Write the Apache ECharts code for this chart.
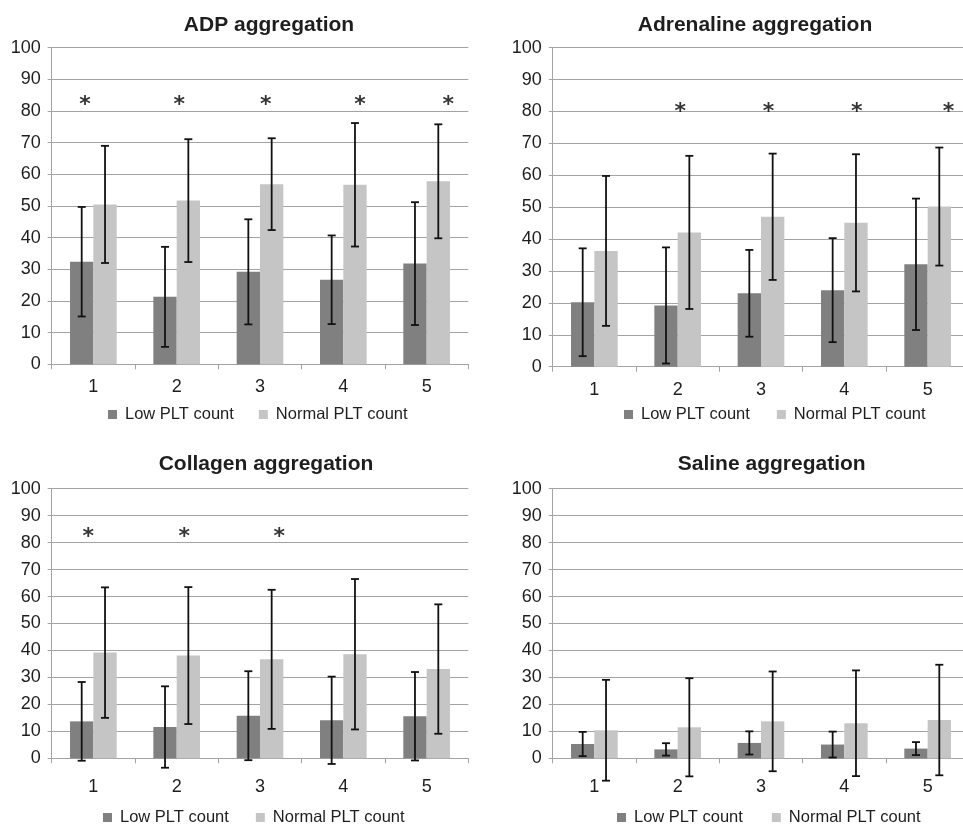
<!DOCTYPE html>
<html><head><meta charset="utf-8">
<script src="https://cdn.jsdelivr.net/npm/echarts@6/dist/echarts.min.js"></script>
<style>html,body{margin:0;padding:0;background:#fff}#c{width:963px;height:825px}</style>
</head><body><div id="c"></div>
<script>
// ---- data ----
const categories = ['1', '2', '3', '4', '5'];
const seriesNames = ['Low PLT count', 'Normal PLT count'];
const panelTitles = ['ADP aggregation', 'Adrenaline aggregation', 'Collagen aggregation', 'Saline aggregation'];
const yMin = 0, yMax = 100, yStep = 10;

const adpLowMean = [32.4, 21.3, 29.2, 26.7, 31.8];
const adpLowSD = [17.3, 15.8, 16.6, 14.0, 19.4];
const adpNormalMean = [50.5, 51.7, 56.9, 56.7, 57.8];
const adpNormalSD = [18.5, 19.4, 14.5, 19.5, 18.0];
const adpSignificant = [1, 1, 1, 1, 1];

const adrLowMean = [20.2, 19.2, 23.0, 24.0, 32.1];
const adrLowSD = [16.9, 18.2, 13.6, 16.3, 20.6];
const adrNormalMean = [36.3, 42.1, 47.0, 45.1, 50.2];
const adrNormalSD = [23.5, 24.0, 19.8, 21.5, 18.5];
const adrSignificant = [0, 1, 1, 1, 1];

const colLowMean = [13.7, 11.6, 15.8, 14.1, 15.6];
const colLowSD = [14.6, 15.1, 16.5, 16.2, 16.4];
const colNormalMean = [39.2, 38.1, 36.7, 38.6, 33.1];
const colNormalSD = [24.2, 25.4, 25.8, 27.9, 24.0];
const colSignificant = [1, 1, 1, 0, 0];

const salLowMean = [5.3, 3.3, 5.7, 5.1, 3.6];
const salLowSD = [4.5, 2.3, 4.3, 4.8, 2.4];
const salNormalMean = [10.4, 11.5, 13.7, 13.0, 14.2];
const salNormalSD = [18.7, 18.2, 18.5, 19.6, 20.5];
const salSignificant = [0, 0, 0, 0, 0];

const starLevels = [83, 81, 83.4, 83];

// ---- layout / style ----
const panelData = [
  [adpLowMean, adpLowSD, adpNormalMean, adpNormalSD, adpSignificant],
  [adrLowMean, adrLowSD, adrNormalMean, adrNormalSD, adrSignificant],
  [colLowMean, colLowSD, colNormalMean, colNormalSD, colSignificant],
  [salLowMean, salLowSD, salNormalMean, salNormalSD, salSignificant]
];
const layout = [
  {grid: {left: 51.7, top: 47.7, width: 416.6, height: 316.6}, title: [269, 15], legend: [108, 406], gap: 25, xMargin: 14,
   starShift: [-0.10, 0.03, 0.07, 0.2, 0.26]},
  {grid: {left: 552.7, top: 47.7, width: 416.6, height: 319}, title: [755, 15], legend: [624, 406], gap: 27, xMargin: 14,
   starShift: [0, 0.03, 0.09, 0.15, 0.25]},
  {grid: {left: 51.7, top: 488.7, width: 416.6, height: 269.6}, title: [266, 454], legend: [103, 809], gap: 27, xMargin: 20,
   starShift: [-0.06, 0.09, 0.23, 0, 0]},
  {grid: {left: 552.7, top: 488.7, width: 416.6, height: 269.6}, title: [771.7, 454], legend: [617, 809], gap: 29, xMargin: 20,
   starShift: [0, 0, 0, 0, 0]}
];
const darkColor = '#808080', lightColor = '#c5c5c5', gridColor = '#a3a3a3', textColor = '#1e1e1e';
const FONT = '"Liberation Sans", Arial, sans-serif';
const BAR_FRAC = 0.28;

const option = {
  animation: false,
  backgroundColor: '#fff',
  textStyle: {fontFamily: FONT},
  title: [], legend: [], grid: [], xAxis: [], yAxis: [], series: []
};

function errorRender(params, api) {
  const idx = api.value(0), mean = api.value(1), sd = api.value(2), side = api.value(3);
  const band = api.size([1, 0])[0];
  const c = api.coord([idx, mean]);
  const x = c[0] + side * band * BAR_FRAC / 2;
  const yt = api.coord([idx, mean + sd])[1];
  const yb = api.coord([idx, mean - sd])[1];
  const hw = 4;
  const style = {stroke: '#111', lineWidth: 1.8};
  return {type: 'group', children: [
    {type: 'line', shape: {x1: x, y1: yt, x2: x, y2: yb}, style: style},
    {type: 'line', shape: {x1: x - hw, y1: yt, x2: x + hw, y2: yt}, style: style},
    {type: 'line', shape: {x1: x - hw, y1: yb, x2: x + hw, y2: yb}, style: style}
  ]};
}

panelData.forEach(function (pd, i) {
  const L = layout[i];
  const [lowM, lowS, norM, norS, sig] = pd;
  option.grid.push(Object.assign({containLabel: false, outerBoundsMode: 'none'}, L.grid));
  option.title.push({
    text: panelTitles[i], left: L.title[0], top: L.title[1], textAlign: 'center', padding: 0,
    textStyle: {fontSize: 21, fontWeight: 'bold', color: textColor, fontFamily: FONT}
  });
  option.legend.push({
    data: seriesNames, left: L.legend[0], top: L.legend[1], padding: 0, itemGap: L.gap,
    itemWidth: 9, itemHeight: 9, icon: 'rect', selectedMode: false,
    textStyle: {fontSize: 16.5, color: textColor, fontFamily: FONT, padding: [0, 0, 0, 3]}
  });
  option.xAxis.push({
    type: 'category', gridIndex: i, data: categories,
    axisLine: {show: true, lineStyle: {color: gridColor, width: 1}},
    axisTick: {show: true, length: 5, lineStyle: {color: gridColor}},
    axisLabel: {fontSize: 18, color: textColor, margin: L.xMargin, fontFamily: FONT},
    splitLine: {show: false}
  });
  option.xAxis.push({type: 'value', gridIndex: i, min: 0.5, max: 5.5, show: false});
  option.yAxis.push({
    type: 'value', gridIndex: i, min: yMin, max: yMax, interval: yStep,
    axisLine: {show: true, lineStyle: {color: gridColor, width: 1}},
    axisTick: {show: true, length: 4, lineStyle: {color: gridColor}},
    axisLabel: {fontSize: 18, color: textColor, margin: 11, fontFamily: FONT},
    splitLine: {show: true, lineStyle: {color: gridColor, width: 1}}
  });
  option.series.push({
    name: seriesNames[0], type: 'bar', xAxisIndex: 2 * i, yAxisIndex: i, data: lowM,
    barWidth: (BAR_FRAC * 100) + '%', barGap: '0%', itemStyle: {color: darkColor}
  });
  option.series.push({
    name: seriesNames[1], type: 'bar', xAxisIndex: 2 * i, yAxisIndex: i, data: norM,
    barWidth: (BAR_FRAC * 100) + '%', barGap: '0%', itemStyle: {color: lightColor}
  });
  const errData = [];
  categories.forEach(function (c, k) {
    errData.push([k, lowM[k], lowS[k], -1]);
    errData.push([k, norM[k], norS[k], 1]);
  });
  option.series.push({
    name: 'err' + i, type: 'custom', xAxisIndex: 2 * i, yAxisIndex: i, clip: false, z: 5,
    renderItem: errorRender, data: errData, encode: {x: 0, y: 1}
  });
  const stars = [];
  sig.forEach(function (s, k) { if (s) stars.push([k + 1 + L.starShift[k], starLevels[i]]); });
  option.series.push({
    name: 'stars' + i, type: 'scatter', xAxisIndex: 2 * i + 1, yAxisIndex: i, data: stars,
    symbol: 'circle', symbolSize: 2, itemStyle: {color: 'rgba(0,0,0,0)'}, silent: true, z: 6,
    label: {show: true, position: 'inside', formatter: '*', offset: [0, 4],
      fontSize: 22, fontWeight: 'bold', color: '#000', fontFamily: '"DejaVu Sans", sans-serif'}
  });
});

const chart = echarts.init(document.getElementById('c'), null, {renderer: 'canvas'});
chart.setOption(option);
</script></body></html>
